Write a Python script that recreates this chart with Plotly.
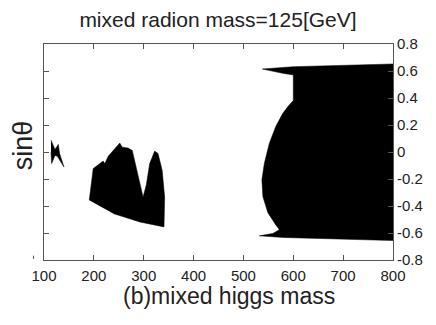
import plotly.graph_objects as go

# region boundaries (mixed higgs mass, sin theta)
small_x = [114, 122, 128.7, 131.3, 140, 126.7, 122, 115.3, 114]
small_y = [0.088, 0.019, 0.056, -0.012, -0.111, -0.032, -0.025, -0.086, 0.0]

mid_x = [190.7, 198.7, 218.7, 222, 228.7, 252, 257, 268.7, 277, 298.7, 305, 312,
         322, 328.7, 337, 342, 340.7, 292, 238.7]
mid_y = [-0.357, -0.123, -0.067, -0.086, -0.032, 0.066, 0.036, 0.029, 0.012, -0.333,
         -0.247, -0.086, 0.007, -0.012, -0.136, -0.333, -0.555, -0.518, -0.456]

big_x = [800, 700, 600, 538, 560, 578.7, 600, 600, 590, 579, 565, 552, 542, 537,
         539, 549, 565, 572, 559, 532, 579, 700, 800]
big_y = [0.652, 0.642, 0.632, 0.615, 0.595, 0.583, 0.571, 0.381, 0.34, 0.287, 0.19,
         0.065, -0.083, -0.206, -0.33, -0.45, -0.54, -0.575, -0.603, -0.621, -0.633,
         -0.645, -0.656]

x_ticks = [100, 200, 300, 400, 500, 600, 700, 800]
y_ticks = [0.8, 0.6, 0.4, 0.2, 0, -0.2, -0.4, -0.6, -0.8]
y_tick_text = ["0.8", "0.6", "0.4", "0.2", "0", "-0.2", "-0.4", "-0.6", "-0.8"]

fig = go.Figure()
for xs, ys in [(small_x, small_y), (mid_x, mid_y), (big_x, big_y)]:
    fig.add_trace(go.Scatter(x=xs, y=ys, fill="toself", fillcolor="black",
                             mode="lines", line=dict(width=0.5, color="black"),
                             hoverinfo="skip"))

axis_style = dict(showline=True, linecolor="#555", linewidth=1, mirror="ticks",
                  ticks="inside", ticklen=5, tickcolor="#555", showgrid=False,
                  zeroline=False, tickfont=dict(size=15, color="#222"))

fig.update_layout(
    width=436, height=325,
    margin=dict(l=44, r=43, t=44, b=65),
    paper_bgcolor="white", plot_bgcolor="white",
    showlegend=False,
    font=dict(family="Liberation Sans, Arial, sans-serif", color="#222"),
    title=dict(text="mixed radion mass=125[GeV]", x=0.5, xanchor="center",
               y=0.94, yanchor="middle", font=dict(size=21)),
    xaxis=dict(range=[100, 800], tickvals=x_ticks, ticklabelstandoff=2, **axis_style),
    yaxis=dict(range=[-0.8, 0.8], side="right", tickvals=y_ticks, ticktext=y_tick_text,
               **axis_style),
    annotations=[
        dict(text="sin\u03b8", x=-0.06, y=0.532, xref="paper", yref="paper",
             xanchor="center", yanchor="middle",
             showarrow=False, textangle=-90, font=dict(size=27)),
        dict(text="(b)mixed higgs mass", x=0.531, y=-0.168, xref="paper", yref="paper",
             xanchor="center", yanchor="middle", showarrow=False, font=dict(size=23)),
    ],
)
fig.add_shape(type="line", xref="paper", yref="paper", x0=-0.03, x1=-0.03,
              y0=0.005, y1=0.02, line=dict(color="#555", width=1))

fig.write_html("out.html", config={"displayModeBar": False},
               post_script="document.body.style.margin='0';")
